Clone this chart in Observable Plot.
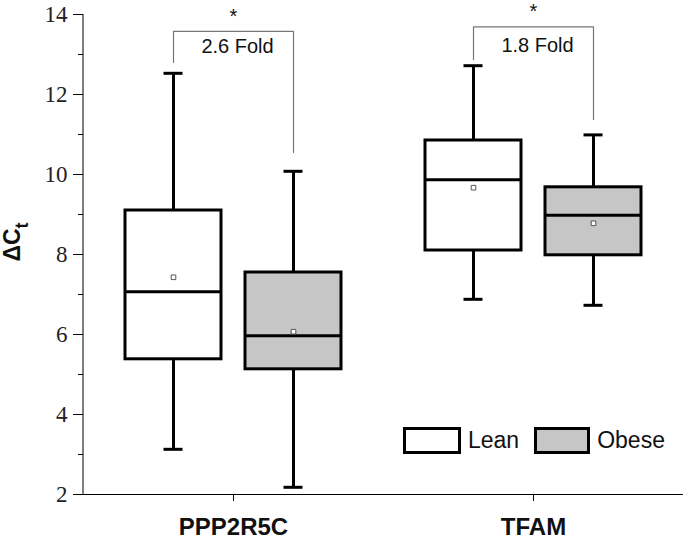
<!DOCTYPE html>
<html>
<head>
<meta charset="utf-8">
<script src="https://cdn.jsdelivr.net/npm/d3@7"></script>
<script src="https://cdn.jsdelivr.net/npm/@observablehq/plot@0.6"></script>
<style>
  html, body { margin: 0; padding: 0; background: #fff; }
  #wrap { position: relative; width: 685px; height: 542px; }
  #legend { position: absolute; left: 403px; top: 427px; display: flex; align-items: center;
            font-family: "Liberation Sans", Arial, sans-serif; font-size: 23px; color: #111; }
  .sw { box-sizing: border-box; height: 27px; border: 3px solid #000; }
</style>
</head>
<body>
<div id="wrap"></div>
<script>
// ---- data ----
const genes = ["PPP2R5C", "TFAM"];
const groups = ["Lean", "Obese"];
const groupFills = ["#ffffff", "#c6c6c6"];

const leanMin    = [3.13, 6.88];
const leanQ1     = [5.38, 8.10];
const leanMedian = [7.07, 9.87];
const leanQ3     = [9.10, 10.85];
const leanMax    = [12.53, 12.72];
const leanMean   = [7.43, 9.67];

const obeseMin    = [2.18, 6.73];
const obeseQ1     = [5.13, 7.98];
const obeseMedian = [5.97, 8.98];
const obeseQ3     = [7.55, 9.68];
const obeseMax    = [10.08, 10.99];
const obeseMean   = [6.07, 8.78];

// significance annotations
const foldLabels   = ["2.6 Fold", "1.8 Fold"];
const foldY        = [13.19, 13.23];
const starY        = [13.94, 14.08];
const bracketTop   = [13.58, 13.69];
const bracketLean  = [12.80, 12.87];
const bracketObese = [10.55, 11.375];

const yMajorTicks = [2, 4, 6, 8, 10, 12, 14];
const yMinorTicks = [3, 5, 7, 9, 11, 13];

// ---- tables ----
const rows = [];
genes.forEach((g, i) => {
  rows.push({gene: g, group: "Lean", min: leanMin[i], q1: leanQ1[i], median: leanMedian[i], q3: leanQ3[i], max: leanMax[i], mean: leanMean[i]});
  rows.push({gene: g, group: "Obese", min: obeseMin[i], q1: obeseQ1[i], median: obeseMedian[i], q3: obeseQ3[i], max: obeseMax[i], mean: obeseMean[i]});
});
const bracketPts = [];
genes.forEach((g, i) => {
  bracketPts.push({gene: g, group: "Lean", v: bracketLean[i]});
  bracketPts.push({gene: g, group: "Lean", v: bracketTop[i]});
  bracketPts.push({gene: g, group: "Obese", v: bracketTop[i]});
  bracketPts.push({gene: g, group: "Obese", v: bracketObese[i]});
});
const annot = genes.map((g, i) => ({gene: g, label: foldLabels[i], fold: foldY[i], star: starY[i]}));

const marginLeft = 83;
const plot = Plot.plot({
  width: 685,
  height: 542,
  marginLeft,
  marginRight: 2,
  marginTop: 14,
  marginBottom: 48,
  style: {fontFamily: "'Liberation Sans', Arial, sans-serif", background: "white", color: "#000"},
  fx: {domain: genes, padding: 0, label: null, axis: null},
  x: {domain: groups, paddingInner: 0.2, paddingOuter: 0.35, axis: null},
  y: {domain: [2, 14], axis: null},
  color: {domain: groups, range: groupFills},
  marks: [
    Plot.axisY({ticks: yMinorTicks, tickSize: 5, tickFormat: () => "", label: null}),
    Plot.axisY({ticks: yMajorTicks, tickSize: 10, tickPadding: 6, label: null, fontSize: 23, fill: "#222"}),
    Plot.axisFx({anchor: "bottom", tickSize: 7, tickPadding: 16, label: null,
                 fontWeight: "bold", fontSize: 24, fill: "#111"}),
    Plot.ruleY([2], {stroke: "#000", strokeWidth: 1}),
    // whiskers
    Plot.ruleX(rows, {fx: "gene", x: "group", y1: "min", y2: "q1", stroke: "#000", strokeWidth: 3}),
    Plot.ruleX(rows, {fx: "gene", x: "group", y1: "q3", y2: "max", stroke: "#000", strokeWidth: 3}),
    Plot.tickY(rows, {fx: "gene", x: "group", y: "min", stroke: "#000", strokeWidth: 3, insetLeft: 38.5, insetRight: 38.5}),
    Plot.tickY(rows, {fx: "gene", x: "group", y: "max", stroke: "#000", strokeWidth: 3, insetLeft: 38.5, insetRight: 38.5}),
    // boxes
    Plot.barY(rows, {fx: "gene", x: "group", y1: "q1", y2: "q3", fill: "group", stroke: "#000", strokeWidth: 3}),
    Plot.tickY(rows, {fx: "gene", x: "group", y: "median", stroke: "#000", strokeWidth: 3}),
    Plot.dot(rows, {fx: "gene", x: "group", y: "mean", symbol: "square", r: 2.6, stroke: "#555", fill: "white", strokeWidth: 1}),
    // brackets
    Plot.line(bracketPts, {fx: "gene", x: "group", y: "v", z: "gene", stroke: "#777", strokeWidth: 1.2}),
    Plot.text(annot, {fx: "gene", y: "fold", text: "label", fontSize: 20, dx: 4, fill: "#111"}),
    Plot.text(annot, {fx: "gene", y: "star", text: () => "*", fontSize: 20, fill: "#111"})
  ]
});

const svg = d3.select(plot);
// serif tick labels on the y axis
const tickStrings = new Set(yMajorTicks.map(String));
svg.selectAll("text")
  .filter(function() { return tickStrings.has(this.textContent.trim()); })
  .style("font-family", "'Liberation Serif', 'Times New Roman', serif")
  .style("font-size", "23px");

// y-axis line, from the plot's own y scale
const ys = plot.scale("y");
svg.append("line")
  .attr("x1", marginLeft).attr("x2", marginLeft)
  .attr("y1", ys.apply(ys.domain[0])).attr("y2", ys.apply(ys.domain[1]))
  .attr("stroke", "#000").attr("stroke-width", 1);

// y-axis title with subscript
const t = svg.append("text")
  .attr("transform", "translate(20,242) rotate(-90)")
  .attr("text-anchor", "middle")
  .style("font-family", "'Liberation Sans', Arial, sans-serif")
  .style("font-weight", "bold")
  .style("font-size", "23px")
  .attr("fill", "#111");
t.append("tspan").text("ΔC");
t.append("tspan").style("font-size", "18px").attr("dy", 8).text("t");

const wrap = document.getElementById("wrap");
wrap.appendChild(plot);

// legend
const legend = document.createElement("div");
legend.id = "legend";
legend.innerHTML = groups.map((g, i) =>
  `<div class="sw" style="width:${i ? 56 : 58}px;background:${groupFills[i]}"></div>` +
  `<span style="margin-left:7px;margin-right:${i ? 0 : 15}px">${g}</span>`).join("");
wrap.appendChild(legend);
</script>
</body>
</html>
